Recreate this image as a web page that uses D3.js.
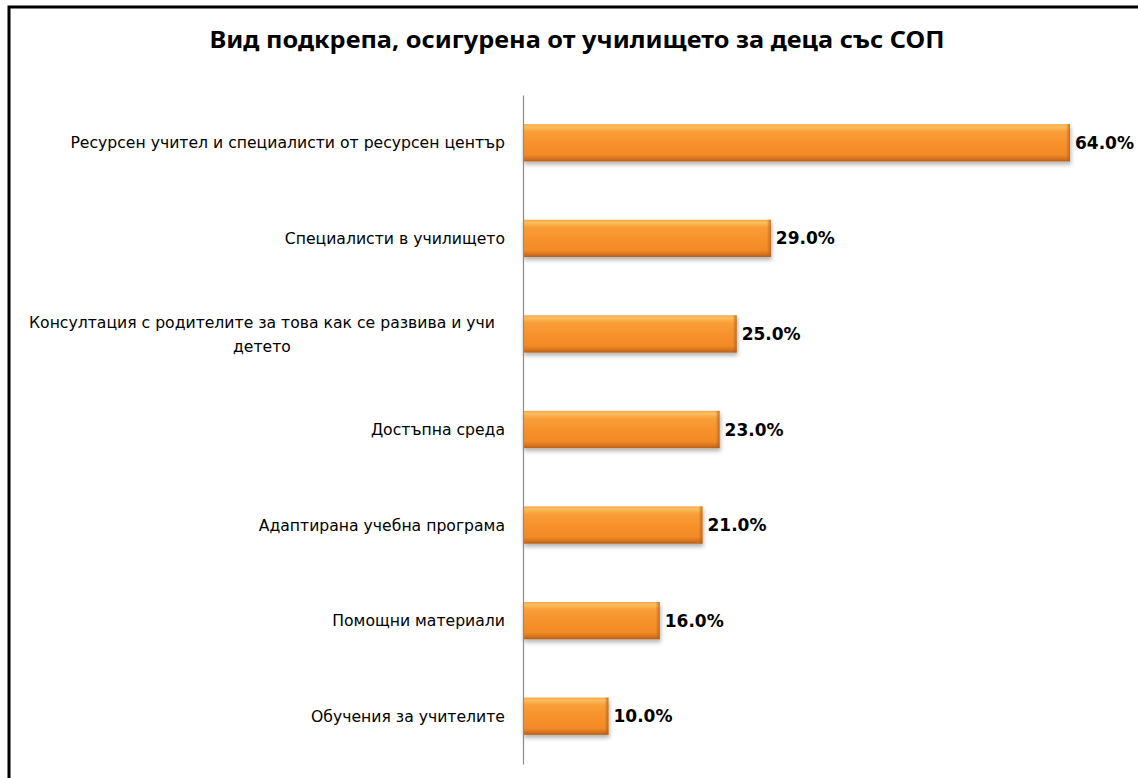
<!DOCTYPE html>
<html><head><meta charset="utf-8">
<script src="https://cdn.jsdelivr.net/npm/d3@7"></script>
<style>html,body{margin:0;padding:0;background:#fff;overflow:hidden}</style>
</head><body>
<svg id="c" width="1138" height="778"></svg>
<script>
const title = "Вид подкрепа, осигурена от училището за деца със СОП";
const categories = [
  "Ресурсен учител и специалисти от ресурсен център",
  "Специалисти в училището",
  "Консултация с родителите за това как се развива и учи детето",
  "Достъпна среда",
  "Адаптирана учебна програма",
  "Помощни материали",
  "Обучения за учителите"
];
const values = [64, 29, 25, 23, 21, 16, 10];
const valueLabels = ["64.0%", "29.0%", "25.0%", "23.0%", "21.0%", "16.0%", "10.0%"];

const svg = d3.select("#c");
const defs = svg.append("defs");
const g1 = defs.append("linearGradient").attr("id","barG").attr("x1",0).attr("y1",0).attr("x2",0).attr("y2",1);
[[0,"#f4a548"],[0.07,"#fbbf5e"],[0.2,"#f99e38"],[0.5,"#f7922c"],[0.82,"#f28a26"],[0.93,"#d5731d"],[1,"#b4601a"]]
  .forEach(([o,c])=>g1.append("stop").attr("offset",o).attr("stop-color",c));
const g2 = defs.append("linearGradient").attr("id","edgeG").attr("x1",0).attr("y1",0).attr("x2",1).attr("y2",0);
g2.append("stop").attr("offset",0).attr("stop-color","#b4601a").attr("stop-opacity",0);
g2.append("stop").attr("offset",1).attr("stop-color","#b4601a").attr("stop-opacity",0.8);
const f = defs.append("filter").attr("id","sh").attr("x","-5%").attr("y","-20%").attr("width","110%").attr("height","160%");
f.append("feDropShadow").attr("dx",1).attr("dy",3).attr("stdDeviation",2).attr("flood-color","#000").attr("flood-opacity",0.3);

// frame
svg.append("rect").attr("x",9).attr("y",7).attr("width",1300).attr("height",1000)
  .attr("fill","none").attr("stroke","#000").attr("stroke-width",3);

const x = d3.scaleLinear().domain([0,70]).range([523, 523 + 70*8.547]);
const y = d3.scaleBand().domain(categories).range([95,764]).paddingInner(0.61).paddingOuter(0.305);

// title
svg.append("text").attr("x",577).attr("y",48).attr("text-anchor","middle")
  .attr("font-family","'Noto Sans','Open Sans',sans-serif").attr("font-weight","bold")
  .attr("font-size",24).attr("fill","#000")
  .attr("textLength",735).attr("lengthAdjust","spacingAndGlyphs").text(title);

// bars
const bars = svg.append("g");
categories.forEach((c,i)=>{
  const x0 = x(0), w = x(values[i]) - x(0), yy = y(c), h = y.bandwidth();
  bars.append("rect").attr("x",x0).attr("y",yy).attr("width",w).attr("height",h)
    .attr("fill","url(#barG)").attr("filter","url(#sh)");
  bars.append("rect").attr("x",x0 + w - 4).attr("y",yy).attr("width",4).attr("height",h)
    .attr("fill","url(#edgeG)");
});

// axis line
const yAxis = d3.axisLeft(y).tickSize(0).tickFormat("");
const ag = svg.append("g").attr("transform",`translate(${x(0)},0)`).call(yAxis);
ag.select(".domain").attr("stroke","#8c8c8c").attr("stroke-width",1.2);

// category labels
const labelFont = "'DejaVu Sans',Verdana,sans-serif";
const probe = svg.append("text").attr("font-family",labelFont).attr("font-size",13).text(categories[0]);
const fs = 13 * 435 / probe.node().getComputedTextLength();
probe.remove();
const maxW = 480;
const lg = svg.append("g").attr("font-family",labelFont).attr("font-size",fs).attr("fill","#000");
function measure(t){ const n = lg.append("text").text(t); const w = n.node().getComputedTextLength(); n.remove(); return w; }
categories.forEach((c)=>{
  const words = c.split(" "); const lines = []; let cur = "";
  words.forEach(wd=>{ const t = cur ? cur + " " + wd : wd; if (measure(t) > maxW && cur){ lines.push(cur); cur = wd; } else cur = t; });
  lines.push(cur);
  const cy = y(c) + y.bandwidth()/2;
  const lh = 24;
  if (lines.length === 1) {
    lg.append("text").attr("x",505).attr("y",cy).attr("dy","0.36em").attr("text-anchor","end").text(lines[0]);
  } else {
    const wmax = d3.max(lines, measure);
    const cx = 495 - wmax/2;
    lines.forEach((l,k)=>{
      lg.append("text").attr("x",cx).attr("y",cy + (k - (lines.length-1)/2)*lh).attr("dy","0.36em")
        .attr("text-anchor","middle").text(l);
    });
  }
});

// value labels
svg.append("g").selectAll("text").data(values).join("text")
  .attr("x",d=>x(d)+5).attr("y",(d,i)=>y(categories[i]) + y.bandwidth()/2).attr("dy","0.36em")
  .attr("font-family",labelFont).attr("font-weight","bold").attr("font-size",17).attr("fill","#000")
  .text((d,i)=>valueLabels[i]);
</script>
</body></html>
